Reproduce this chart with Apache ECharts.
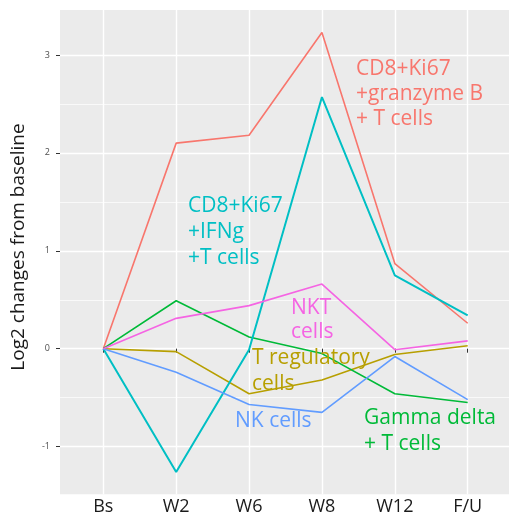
<!DOCTYPE html>
<html>
<head>
<meta charset="utf-8">
<script src="https://cdn.jsdelivr.net/npm/echarts@6/dist/echarts.min.js"></script>
<style>
  html, body { margin: 0; padding: 0; background: #ffffff; }
  #chart { width: 509px; height: 517px; }
</style>
</head>
<body>
<div id="chart"></div>
<script>
// Time points and log2 fold changes per cell population
const categories = ['Bs', 'W2', 'W6', 'W8', 'W12', 'F/U'];
const granzymeB  = [0, 2.10, 2.18, 3.23, 0.87, 0.26];
const ifng       = [0, -1.26, -0.01, 2.57, 0.75, 0.34];
const gammaDelta = [0, 0.49, 0.12, -0.05, -0.46, -0.55];
const nkt        = [0, 0.31, 0.44, 0.66, -0.01, 0.08];
const tReg       = [0, -0.03, -0.46, -0.32, -0.06, 0.03];
const nkCells    = [0, -0.24, -0.57, -0.65, -0.08, -0.52];
const yTickMin = -1, yTickMax = 3;

const W = 509, H = 517;
// panel geometry (pixels)
const PANEL_LEFT = 60, PANEL_TOP = 10, PANEL_BOTTOM = 494.3;
const FIRST_CAT_X = 103.3, LAST_CAT_X = 467.7;
const ZERO_PX = 348.7, UNIT_PX = 97.9;
const yPx = v => ZERO_PX - v * UNIT_PX;

const col = {
  red: '#F8766D', gold: '#B79F00', green: '#00BA38',
  teal: '#00BFC4', blue: '#619CFF', pink: '#F564E3'
};

const FONT = '"Open Sans", "Liberation Sans", sans-serif';

function lineSeries(name, data, color, width) {
  return {
    name, type: 'line', data,
    xAxisIndex: 2, yAxisIndex: 2,
    symbol: 'none', smooth: false, silent: true,
    lineStyle: { color, width },
    itemStyle: { color },
    z: 3
  };
}

function note(text, x, y, color, lh) {
  return {
    type: 'text', x, y, silent: true, z: 10,
    style: {
      text, fill: color, font: '21px ' + FONT,
      align: 'left', verticalAlign: 'middle', lineHeight: lh
    }
  };
}

const chart = echarts.init(document.getElementById('chart'), null, { renderer: 'canvas' });

chart.setOption({
  animation: false,
  backgroundColor: '#ffffff',
  grid: [
    // grey panel
    { left: PANEL_LEFT, top: PANEL_TOP, right: -3, bottom: H - PANEL_BOTTOM,
      show: true, backgroundColor: '#EBEBEB', borderWidth: 0 },
    // thin guides every half unit
    { left: PANEL_LEFT, right: -3, top: yPx(3.5), bottom: H - yPx(-1.5) },
    // data area with categories at its edges
    { left: FIRST_CAT_X, right: W - LAST_CAT_X, top: PANEL_TOP, bottom: H - PANEL_BOTTOM },
    // major guides, ticks and labels on whole units
    { left: PANEL_LEFT, right: -3, top: yPx(yTickMax), bottom: H - yPx(yTickMin) }
  ],
  xAxis: [
    { gridIndex: 0, type: 'value', show: false },
    { gridIndex: 1, type: 'value', show: false },
    {
      gridIndex: 2, type: 'category', data: categories, boundaryGap: false,
      axisLine: { show: false },
      axisTick: { show: true, length: 4, lineStyle: { color: '#333333', width: 1 } },
      axisLabel: { color: '#1a1a1a', fontSize: 18, fontFamily: FONT, margin: 4 },
      splitLine: { show: true, lineStyle: { color: '#ffffff', width: 1.4 } }
    },
    { gridIndex: 3, type: 'value', show: false }
  ],
  yAxis: [
    { gridIndex: 0, type: 'value', show: false },
    {
      gridIndex: 1, type: 'value', min: -1.5, max: 3.5, interval: 0.5,
      axisLine: { show: false }, axisTick: { show: false }, axisLabel: { show: false },
      splitLine: { show: true, lineStyle: { color: '#ffffff', width: 0.7 } }
    },
    {
      gridIndex: 2, type: 'value', show: false,
      min: -(PANEL_BOTTOM - ZERO_PX) / UNIT_PX,
      max: (ZERO_PX - PANEL_TOP) / UNIT_PX,
      splitLine: { show: false }
    },
    {
      gridIndex: 3, type: 'value', min: yTickMin, max: yTickMax, interval: 1,
      axisLine: { show: false },
      axisTick: { show: true, length: 4, lineStyle: { color: '#333333', width: 1 } },
      axisLabel: { color: '#4D4D4D', fontSize: 9, fontFamily: FONT, margin: 10 },
      splitLine: { show: true, lineStyle: { color: '#ffffff', width: 1.4 } }
    }
  ],
  series: [
    lineSeries('CD8+Ki67+granzyme B+ T cells', granzymeB, col.red, 1.6),
    lineSeries('T regulatory cells', tReg, col.gold, 1.6),
    lineSeries('Gamma delta + T cells', gammaDelta, col.green, 1.6),
    lineSeries('CD8+Ki67+IFNg+T cells', ifng, col.teal, 2),
    lineSeries('NK cells', nkCells, col.blue, 1.6),
    lineSeries('NKT cells', nkt, col.pink, 1.6)
  ],
  graphic: [
    {
      type: 'text', x: 19, y: 247, rotation: Math.PI / 2, silent: true,
      style: {
        text: 'Log2 changes from baseline', fill: '#1a1a1a',
        font: '19px ' + FONT, align: 'center', verticalAlign: 'middle'
      }
    },
    note('CD8+Ki67\n+granzyme B\n+ T cells', 356, 94, col.red, 25),
    note('CD8+Ki67\n+IFNg\n+T cells', 188, 232, col.teal, 26),
    note('NKT\ncells', 291, 320, col.pink, 24.5),
    note('T regulatory\ncells', 252, 371, col.gold, 26),
    note('NK cells', 235, 421, col.blue, 25),
    note('Gamma delta\n+ T cells', 364, 431, col.green, 26)
  ]
});
</script>
</body>
</html>
